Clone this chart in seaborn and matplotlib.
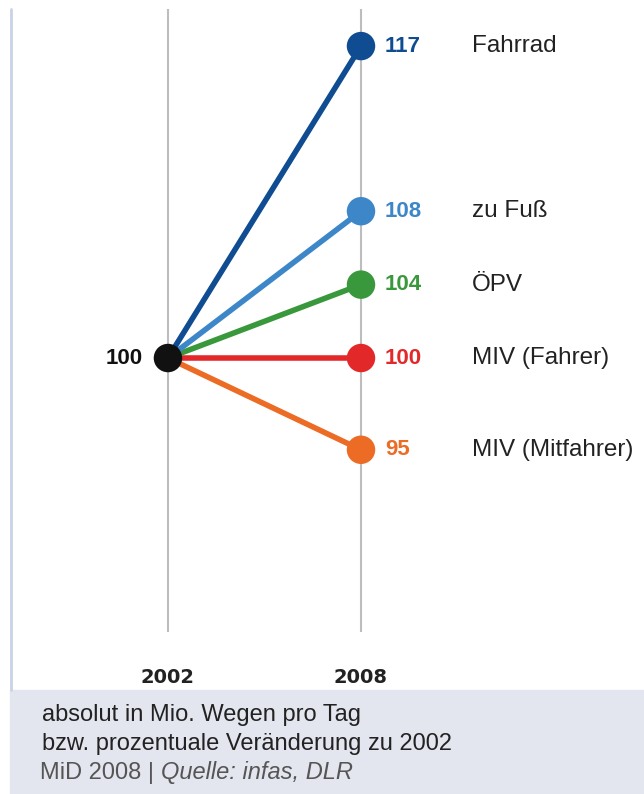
import numpy as np
import pandas as pd
import seaborn as sns
import matplotlib.pyplot as plt
from matplotlib.lines import Line2D
from matplotlib.patches import Rectangle

# Daten
modes = ['Fahrrad', 'zu Fuß', 'ÖPV', 'MIV (Fahrer)', 'MIV (Mitfahrer)']
years = ['2002', '2008']
werte_2002 = [100, 100, 100, 100, 100]
werte_2008 = [117, 108, 104, 100, 95]
farben = ['#0f4c91', '#3d87c9', '#3a983c', '#e3282a', '#ec6b25']

df = pd.DataFrame({
    'mode': modes * 2,
    'x': [0] * len(modes) + [1] * len(modes),
    'wert': werte_2002 + werte_2008,
})

sns.set_style('white')
plt.rcParams['font.family'] = ['Liberation Sans', 'DejaVu Sans']

fig = plt.figure(figsize=(6.44, 7.94), dpi=100)
ax = fig.add_axes([11 / 644, 1 - 632 / 794, 633 / 644, 623 / 794])

ax.axvline(0, color='#bdbdbd', lw=1.5, zorder=0)
ax.axvline(1, color='#bdbdbd', lw=1.5, zorder=0)

pal = dict(zip(modes, farben))
sns.lineplot(data=df, x='x', y='wert', hue='mode', palette=pal,
             hue_order=modes[::-1], lw=4, legend=False, ax=ax, zorder=2)
end = df[df['x'] == 1]
sns.scatterplot(data=end, x='x', y='wert', hue='mode', palette=pal,
                s=420, edgecolor='none', legend=False, ax=ax, zorder=3)
ax.scatter([0], [werte_2002[0]], s=420, color='#111111', zorder=4, edgecolor='none')

# Beschriftungen
for m, w, c in zip(modes, werte_2008, farben):
    ax.text(1.124, w, str(w), color=c, fontsize=16, fontweight='bold', va='center', ha='left')
    ax.text(1.574, w, m, color='#222222', fontsize=17.5, va='center', ha='left')
ax.text(-0.13, werte_2002[0], '100', color='#111111', fontsize=16, fontweight='bold',
        va='center', ha='right')

ax.set_xlim(-0.813, 2.466)
ax.set_ylim(85.07, 119.02)
ax.set_xticks([0, 1])
ax.set_xticklabels(years, fontsize=14, fontweight='bold', color='#222222',
                   family='DejaVu Sans')
ax.tick_params(axis='x', length=0, pad=26)
ax.set_yticks([])
ax.set_xlabel('')
ax.set_ylabel('')
for s in ax.spines.values():
    s.set_visible(False)

# linke Randlinie und Fußbereich
fig.add_artist(Line2D([11 / 644, 11 / 644], [1 - 690 / 794, 1 - 9 / 794],
                      color='#c9d3e8', lw=2))
fig.add_artist(Rectangle((10 / 644, 0), 634 / 644, 104 / 794, color='#e3e6ef', zorder=0))

fig.text(42 / 644, 1 - 715 / 794, 'absolut in Mio. Wegen pro Tag', fontsize=17,
         color='#222222', va='center')
fig.text(42 / 644, 1 - 744 / 794, 'bzw. prozentuale Veränderung zu 2002', fontsize=17,
         color='#222222', va='center')
t = fig.text(40 / 644, 1 - 773 / 794, 'MiD 2008 | ', fontsize=17, color='#555555', va='center')
fig.canvas.draw()
bb = t.get_window_extent()
fig.text(bb.x1 / 644, 1 - 773 / 794, 'Quelle: infas, DLR', fontsize=17, color='#555555',
         style='italic', va='center')

plt.savefig('out.png', dpi=100)
